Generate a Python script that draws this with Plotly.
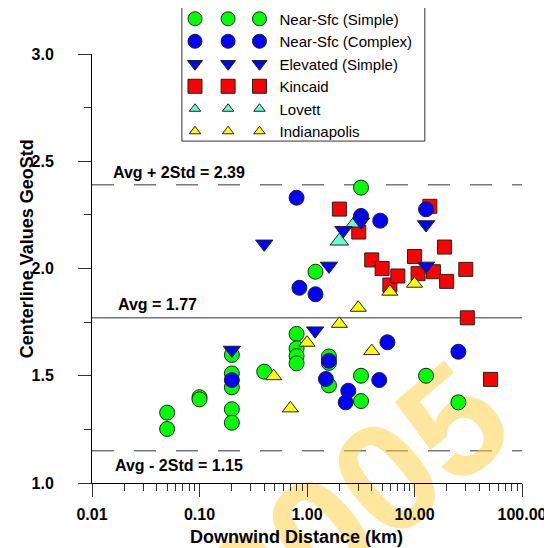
import plotly.graph_objects as go

FONT = "Arial, Liberation Sans, sans-serif"

# ---------------- data ----------------
ns_simple_x = [0.05, 0.05, 0.1, 0.1, 0.2, 0.2, 0.2, 0.2, 0.2, 0.4, 0.8, 0.8, 0.8, 0.8,
               1.2, 1.6, 1.6, 1.6, 3.18, 3.18, 3.18, 12.8, 25.6]
ns_simple_y = [1.328, 1.252, 1.40, 1.39, 1.597, 1.511, 1.446, 1.344, 1.281, 1.519, 1.695,
               1.628, 1.592, 1.558, 1.985, 1.59, 1.56, 1.455, 2.377, 1.50, 1.382, 1.50, 1.376]
ns_complex_x = [0.2, 0.8, 0.85, 1.2, 1.6, 1.5, 2.42, 2.29, 3.18, 4.8, 4.7, 5.6, 12.8, 25.6]
ns_complex_y = [1.48, 2.33, 1.91, 1.88, 1.57, 1.485, 1.43, 1.376, 2.245, 2.223, 1.48, 1.656,
                2.276, 1.612]
elev_x = [0.2, 0.4, 1.19, 1.6, 2.18, 3.18, 12.8, 12.8]
elev_y = [1.62, 2.115, 1.71, 2.012, 2.178, 2.218, 2.205, 2.012]
kincaid_x = [2.0, 3.03, 4.0, 5.0, 5.9, 7.0, 10.0, 10.8, 13.9, 15.0, 19.0, 19.9, 30.0, 31.0, 51.0]
kincaid_y = [2.277, 2.17, 2.04, 2.0, 1.923, 1.965, 2.056, 1.976, 2.29, 1.985, 2.10, 1.94,
             1.996, 1.77, 1.483]
lovett_x = [2.0, 2.8]
lovett_y = [2.128, 2.212]
indy_x = [0.49, 0.7, 1.0, 2.0, 3.0, 4.0, 5.9, 10.0]
indy_y = [1.498, 1.348, 1.654, 1.742, 1.817, 1.615, 1.892, 1.929]

avg_value = 1.77
avg_plus = 2.39
avg_minus = 1.15

x_tick_vals = [0.01, 0.1, 1, 10, 100]
x_tick_text = ["0.01", "0.10", "1.00", "10.00", "100.00"]
y_tick_vals = [1.0, 1.5, 2.0, 2.5, 3.0]
y_tick_text = ["1.0", "1.5", "2.0", "2.5", "3.0"]

x_title = "Downwind Distance (km)"
y_title = "Centerline Values GeoStd"

# series definitions: (name, x, y, symbol, colour, size, legend rank, legend size)
series = [
    ("Near-Sfc (Simple)", ns_simple_x, ns_simple_y, "circle", "#00ff00", 15, 1, 14),
    ("Kincaid", kincaid_x, kincaid_y, "square", "#ff0000", 14, 4, 14),
    ("Lovett", lovett_x, lovett_y, "triangle-up", "#66ffcc", 16, 5, 10),
    ("Near-Sfc (Complex)", ns_complex_x, ns_complex_y, "circle", "#0000ff", 15, 2, 14),
    ("Elevated (Simple)", elev_x, elev_y, "triangle-down", "#0000ff", 15, 3, 13),
    ("Indianapolis", indy_x, indy_y, "triangle-up", "#ffff00", 14, 6, 10),
]

fig = go.Figure()

for name, xs, ys, sym, col, size, rank, lsize in series:
    line = dict(color="#222", width=1)
    fig.add_trace(go.Scatter(
        x=xs, y=ys, mode="markers", name=name, showlegend=False,
        marker=dict(symbol=sym, color=col, size=size, line=line)))
    # legend: three marker columns, the last one labelled
    for lg, label in (("legend", " "), ("legend2", " "), ("legend3", name)):
        fig.add_trace(go.Scatter(
            x=[None], y=[None], mode="markers", name=label, legend=lg, legendrank=rank,
            marker=dict(symbol=sym, color=col, size=lsize, line=line), hoverinfo="skip"))

# reference lines
for val, dash in ((avg_plus, "22px,20px"), (avg_value, "solid"), (avg_minus, "22px,20px")):
    fig.add_shape(type="line", xref="x domain", x0=0, x1=1, yref="y", y0=val, y1=val,
                  line=dict(color="#333333", width=1, dash=dash), layer="below")

ann_font = dict(family=FONT, size=16, color="black", weight="bold")
fig.add_annotation(text=f"Avg + 2Std = {avg_plus:.2f}", xref="paper", x=0.044, xanchor="left",
                   yref="y", y=avg_plus, yshift=12, showarrow=False, font=ann_font)
fig.add_annotation(text=f"Avg = {avg_value:.2f}", xref="paper", x=0.056, xanchor="left",
                   yref="y", y=avg_value, yshift=13, showarrow=False, font=ann_font)
fig.add_annotation(text=f"Avg - 2Std = {avg_minus:.2f}", xref="paper", x=0.049, xanchor="left",
                   yref="y", y=avg_minus, yshift=-15, showarrow=False, font=ann_font)

# axis titles
title_font = dict(family=FONT, size=18, color="black", weight="bold")
fig.add_annotation(text=x_title, xref="paper", yref="paper", x=0.476, y=-0.126,
                   xanchor="center", yanchor="middle", showarrow=False, font=title_font)
fig.add_annotation(text=y_title, xref="paper", yref="paper", x=-0.151, y=0.545,
                   xanchor="center", yanchor="middle", textangle=-90, showarrow=False,
                   font=title_font)

# watermark, drawn beneath the markers as a shape label
fig.add_shape(type="rect", xref="paper", yref="paper", x0=0.577, x1=0.597, y0=-0.032, y1=-0.018,
              line=dict(width=0), fillcolor="rgba(0,0,0,0)", layer="below",
              label=dict(text="2005", textangle=-40, textposition="middle center",
                         font=dict(family=FONT, size=155, weight="bold",
                                   color="rgba(255,205,60,0.5)")))

# legend frame
fig.add_shape(type="rect", xref="paper", yref="paper", x0=0.209, x1=0.774, y0=0.797, y1=1.124,
              line=dict(color="#333333", width=1), fillcolor="rgba(0,0,0,0)")

leg_common = dict(font=dict(family=FONT, size=15, color="black"), bgcolor="rgba(0,0,0,0)",
                  borderwidth=0, tracegroupgap=0, yanchor="top", y=1.12, xanchor="left",
                  itemclick=False, itemdoubleclick=False)

minor_x = [m * 10 ** e for e in range(-2, 2) for m in range(2, 10)]

fig.update_layout(
    width=544, height=540,
    margin=dict(l=84, r=30, t=46, b=65, autoexpand=False),
    paper_bgcolor="white", plot_bgcolor="white",
    font=dict(family=FONT, color="black"),
    legend=dict(x=0.193, **leg_common),
    legend2=dict(x=0.270, **leg_common),
    legend3=dict(x=0.343, **leg_common),
    xaxis=dict(type="log", range=[-2, 2], tickvals=x_tick_vals, ticktext=x_tick_text,
               ticks="outside", ticklen=13, tickcolor="#333", showline=True, linecolor="black",
               showgrid=False, zeroline=False, ticklabelstandoff=4,
               tickfont=dict(family=FONT, size=16, weight="bold"),
               minor=dict(tickvals=minor_x, ticks="outside", ticklen=7, tickcolor="#333",
                          showgrid=False)),
    yaxis=dict(range=[1, 3], tickvals=y_tick_vals, ticktext=y_tick_text,
               ticks="outside", ticklen=13, tickcolor="#333", showline=True, linecolor="black",
               showgrid=False, zeroline=False, ticklabelstandoff=21,
               tickfont=dict(family=FONT, size=16, weight="bold"),
               minor=dict(dtick=0.25, ticks="outside", ticklen=7, tickcolor="#333",
                          showgrid=False)),
)

fig.write_html("out.html")
